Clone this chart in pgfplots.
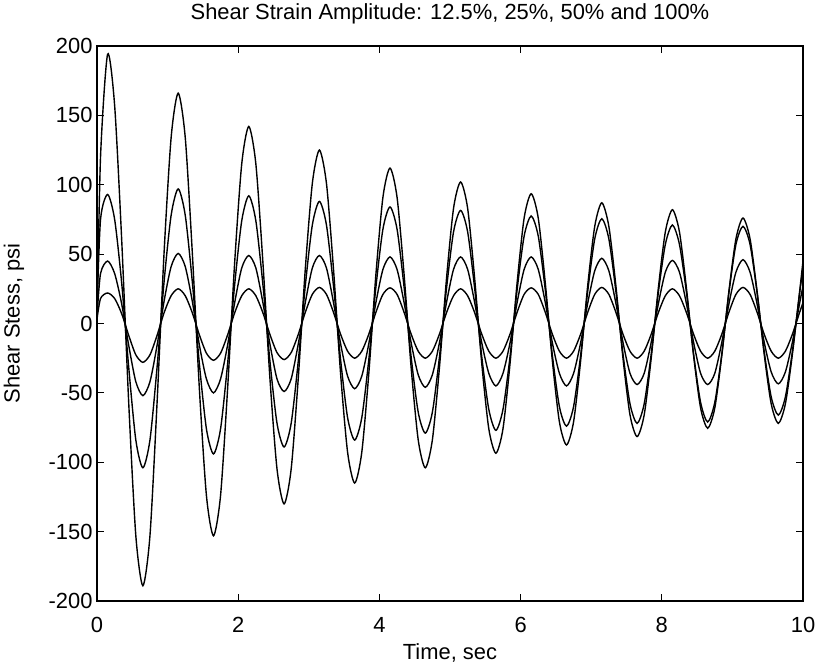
\documentclass[border=0pt]{standalone}
\usepackage{fontspec}
\setmainfont{Liberation Sans}
\usepackage{pgfplots}
\pgfplotsset{compat=1.18}
\begin{document}
\begin{tikzpicture}
\begin{axis}[
  at={(0,0)}, anchor=south west,
  scale only axis, width=706bp, height=555bp,
  xmin=0, xmax=10, ymin=-200, ymax=200,
  xtick={0,2,...,10}, ytick={-200,-150,...,200},
  tick align=inside, major tick length=7bp,
  xtick pos=both, ytick pos=both,
  axis line style={line width=1.2pt},
  every tick/.style={black, line width=0.9pt},
  font=\fontsize{22}{26}\selectfont,
  /pgf/number format/assume math mode=true,
  yticklabel style={xshift=-1bp},
  xticklabel style={yshift=-13bp},
  title={Shear Strain Amplitude: 12.5\%, 25\%, 50\% and 100\%},
  title style={at={(0.5,1)}, anchor=base, yshift=21bp},
  xlabel={Time, sec},
  ylabel={Shear Stess, psi},
  xlabel style={at={(0.5,0)}, anchor=base, yshift=-58bp},
  ylabel style={at={(0,0.5)}, anchor=center, yshift=83bp},
  cycle list={{black}},
  no markers,
  every axis plot/.append style={black, line width=1.4pt, smooth, tension=0.45},
]
% 100%
\addplot coordinates {
(0,0) (0.05,120) (0.15,194) (0.25,157) (0.35,60) (0.45,-58) (0.55,-153) (0.65,-189) (0.75,-153) (0.85,-58) (0.95,51)
(1.05,134) (1.15,166) (1.25,134) (1.35,51) (1.45,-47) (1.55,-124) (1.65,-153) (1.75,-124) (1.85,-47) (1.95,44)
(2.05,115) (2.15,142) (2.25,115) (2.35,44) (2.45,-40) (2.55,-105) (2.65,-130) (2.75,-105) (2.85,-40) (2.95,39)
(3.05,101) (3.15,125) (3.25,101) (3.35,39) (3.45,-36) (3.55,-93) (3.65,-115) (3.75,-93) (3.85,-36) (3.95,35)
(4.05,91) (4.15,112) (4.25,91) (4.35,35) (4.45,-32) (4.55,-84) (4.65,-104) (4.75,-84) (4.85,-32) (4.95,32)
(5.05,83) (5.15,102) (5.25,83) (5.35,32) (5.45,-29) (5.55,-76) (5.65,-93.5) (5.75,-76) (5.85,-29) (5.95,29)
(6.05,76) (6.15,93.5) (6.25,76) (6.35,29) (6.45,-27) (6.55,-71) (6.65,-87.5) (6.75,-71) (6.85,-27) (6.95,27)
(7.05,70) (7.15,87) (7.25,70) (7.35,27) (7.45,-25) (7.55,-66) (7.65,-81.5) (7.75,-66) (7.85,-25) (7.95,25)
(8.05,66) (8.15,82) (8.25,66) (8.35,25) (8.45,-23) (8.55,-61) (8.65,-75.5) (8.75,-61) (8.85,-23) (8.95,23)
(9.05,61) (9.15,76) (9.25,61) (9.35,23) (9.45,-22) (9.55,-58) (9.65,-72) (9.75,-58) (9.85,-22) (9.95,22) (10,45)
};
% 50%
\addplot coordinates {
(0,10) (0.05,75) (0.15,93) (0.25,75) (0.35,29) (0.45,-32) (0.55,-84) (0.65,-104) (0.75,-84) (0.85,-32) (0.95,30)
(1.05,78) (1.15,97) (1.25,78) (1.35,30) (1.45,-29) (1.55,-76) (1.65,-94) (1.75,-76) (1.85,-29) (1.95,28)
(2.05,74) (2.15,92) (2.25,74) (2.35,28) (2.45,-27.5) (2.55,-72) (2.65,-89) (2.75,-72) (2.85,-27.5) (2.95,27)
(3.05,71) (3.15,88) (3.25,71) (3.35,27) (3.45,-26) (3.55,-68) (3.65,-84) (3.75,-68) (3.85,-26) (3.95,26)
(4.05,68) (4.15,84) (4.25,68) (4.35,26) (4.45,-24.4) (4.55,-64) (4.65,-79) (4.75,-64) (4.85,-24.4) (4.95,25)
(5.05,66) (5.15,81.5) (5.25,66) (5.35,25) (5.45,-24) (5.55,-62) (5.65,-77) (5.75,-62) (5.85,-24) (5.95,24)
(6.05,63) (6.15,77.5) (6.25,63) (6.35,24) (6.45,-23) (6.55,-60) (6.65,-74) (6.75,-60) (6.85,-23) (6.95,23)
(7.05,61) (7.15,75.5) (7.25,61) (7.35,23) (7.45,-22) (7.55,-58) (7.65,-72) (7.75,-58) (7.85,-22) (7.95,22)
(8.05,57) (8.15,71) (8.25,57) (8.35,22) (8.45,-22) (8.55,-57) (8.65,-71) (8.75,-57) (8.85,-22) (8.95,22)
(9.05,57) (9.15,70) (9.25,57) (9.35,22) (9.45,-20) (9.55,-53) (9.65,-66) (9.75,-53) (9.85,-20) (9.95,21) (10,40)
};
% 25%
\addplot coordinates {
(0,5) (0.05,36) (0.15,45) (0.25,36) (0.35,14) (0.45,-16) (0.55,-42) (0.65,-52) (0.75,-42) (0.85,-16) (0.95,16)
(1.05,41) (1.15,50.5) (1.25,41) (1.35,16) (1.45,-15.5) (1.55,-40) (1.65,-50) (1.75,-40) (1.85,-15.5) (1.95,15)
(2.05,40) (2.15,49) (2.25,40) (2.35,15) (2.45,-15) (2.55,-40) (2.65,-49) (2.75,-40) (2.85,-15) (2.95,15)
(3.05,40) (3.15,49) (3.25,40) (3.35,15) (3.45,-14.5) (3.55,-38) (3.65,-47) (3.75,-38) (3.85,-14.5) (3.95,15)
(4.05,39) (4.15,48) (4.25,39) (4.35,15) (4.45,-14) (4.55,-37) (4.65,-46) (4.75,-37) (4.85,-14) (4.95,15)
(5.05,39) (5.15,48) (5.25,39) (5.35,15) (5.45,-14) (5.55,-36) (5.65,-45) (5.75,-36) (5.85,-14) (5.95,15)
(6.05,39) (6.15,48) (6.25,39) (6.35,15) (6.45,-14) (6.55,-36) (6.65,-45) (6.75,-36) (6.85,-14) (6.95,14.5)
(7.05,38) (7.15,47) (7.25,38) (7.35,14.5) (7.45,-13.6) (7.55,-36) (7.65,-44) (7.75,-36) (7.85,-13.6) (7.95,14)
(8.05,37) (8.15,45.5) (8.25,37) (8.35,14) (8.45,-13.6) (8.55,-36) (8.65,-44) (8.75,-36) (8.85,-13.6) (8.95,14)
(9.05,37) (9.15,46) (9.25,37) (9.35,14) (9.45,-13.4) (9.55,-35) (9.65,-43.5) (9.75,-35) (9.85,-13.4) (9.95,14) (10,27)
};
% 12.5%
\addplot coordinates {
(0,3) (0.05,18) (0.15,22) (0.25,18) (0.35,7) (0.45,-8.7) (0.55,-22.6) (0.65,-28) (0.75,-22.6) (0.85,-8.7) (0.95,7.7)
(1.05,20) (1.15,25) (1.25,20) (1.35,7.7) (1.45,-8.2) (1.55,-21.4) (1.65,-26.5) (1.75,-21.4) (1.85,-8.2) (1.95,7.7)
(2.05,20) (2.15,25) (2.25,20) (2.35,7.7) (2.45,-8) (2.55,-21) (2.65,-26) (2.75,-21) (2.85,-8) (2.95,8)
(3.05,21) (3.15,26) (3.25,21) (3.35,8) (3.45,-7.7) (3.55,-20) (3.65,-25) (3.75,-20) (3.85,-7.7) (3.95,8)
(4.05,21) (4.15,25.7) (4.25,21) (4.35,8) (4.45,-7.7) (4.55,-20) (4.65,-25) (4.75,-20) (4.85,-7.7) (4.95,7.7)
(5.05,20) (5.15,25) (5.25,20) (5.35,7.7) (5.45,-7.7) (5.55,-20) (5.65,-25) (5.75,-20) (5.85,-7.7) (5.95,8)
(6.05,21) (6.15,25.7) (6.25,21) (6.35,8) (6.45,-7.7) (6.55,-20) (6.65,-25) (6.75,-20) (6.85,-7.7) (6.95,8)
(7.05,21) (7.15,26) (7.25,21) (7.35,8) (7.45,-7.7) (7.55,-20) (7.65,-25) (7.75,-20) (7.85,-7.7) (7.95,7.7)
(8.05,20) (8.15,25) (8.25,20) (8.35,7.7) (8.45,-7.7) (8.55,-20) (8.65,-25) (8.75,-20) (8.85,-7.7) (8.95,8)
(9.05,21) (9.15,26) (9.25,21) (9.35,8) (9.45,-7.7) (9.55,-20) (9.65,-25) (9.75,-20) (9.85,-7.7) (9.95,7.7) (10,15)
};
\end{axis}
\pgfresetboundingbox
\path[use as bounding box] (-97bp,-65bp) rectangle (720bp,601bp);
\end{tikzpicture}
\end{document}
